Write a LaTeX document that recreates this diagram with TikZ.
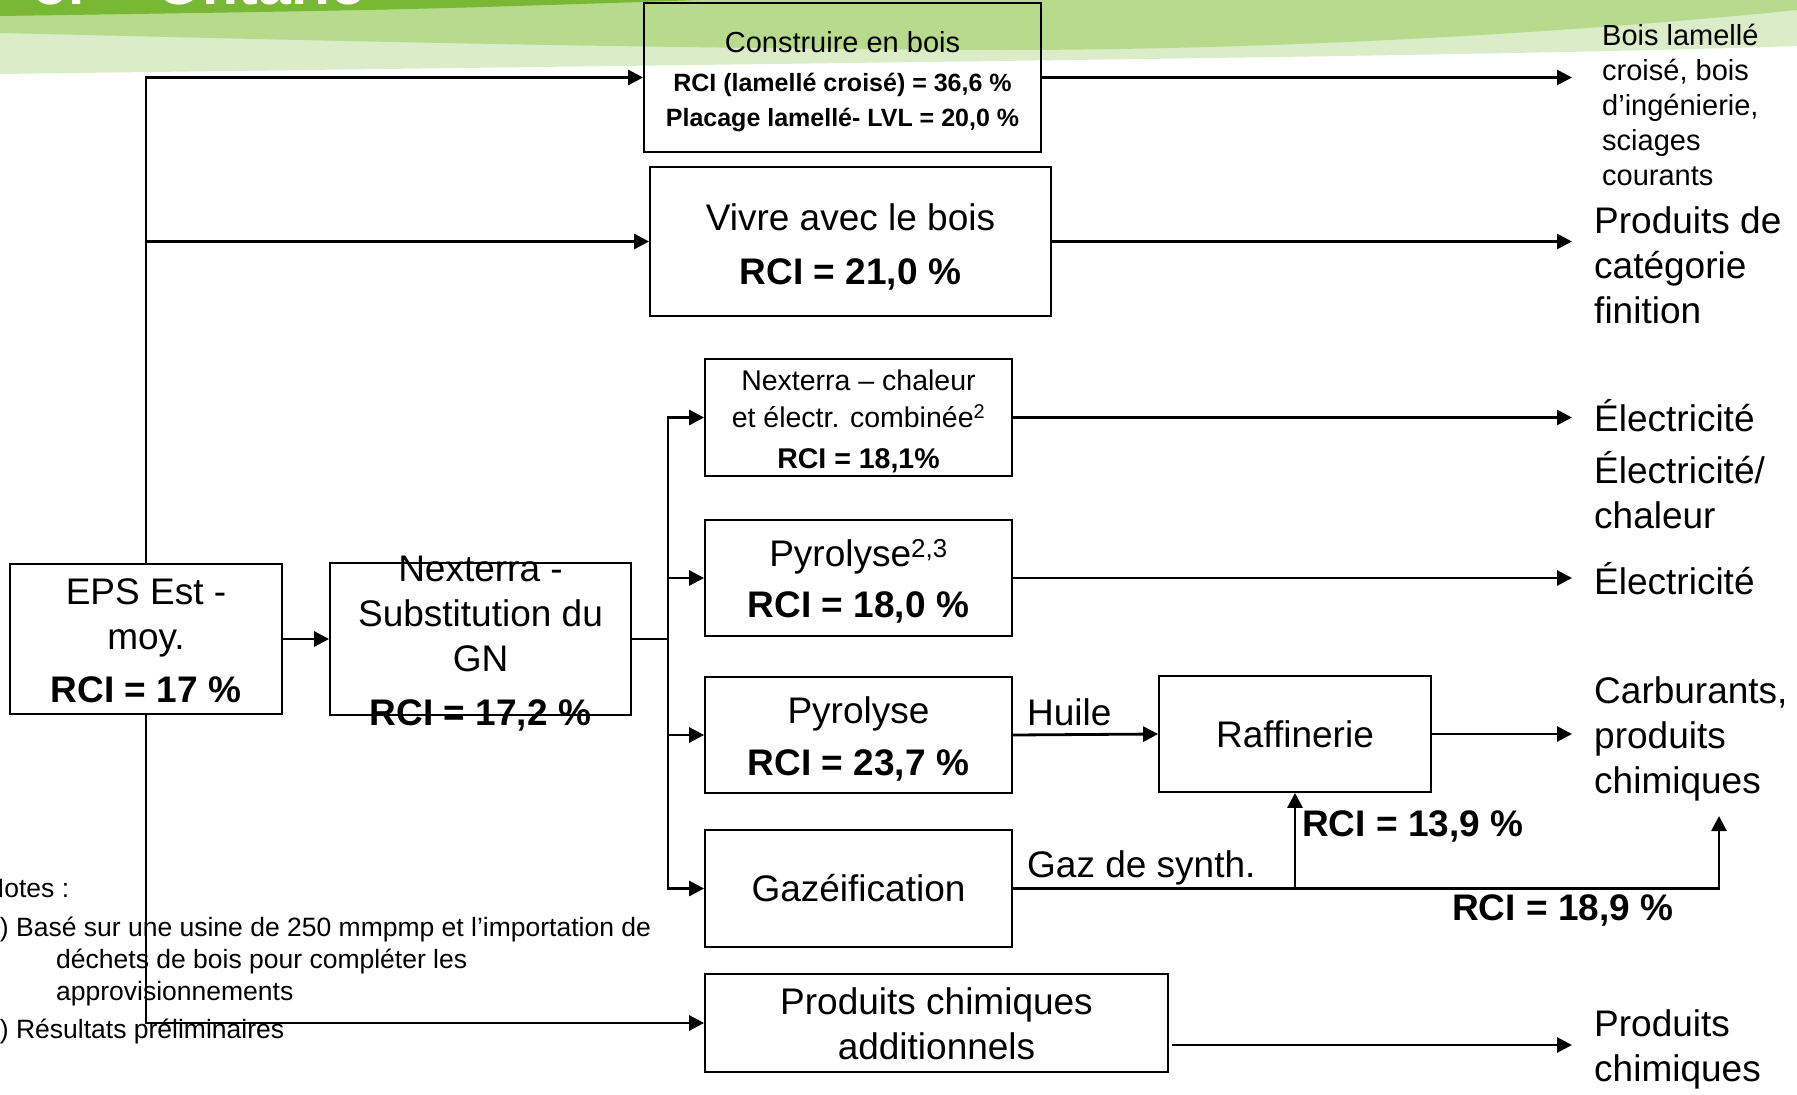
\documentclass[tikz,border=0pt]{standalone}
\usepackage{fontspec}
\setmainfont{Liberation Sans}
\usetikzlibrary{arrows.meta}
\definecolor{bandDark}{RGB}{120,184,52}
\definecolor{bandMid}{RGB}{183,218,140}
\definecolor{bandPale}{RGB}{219,236,201}
\newcommand\fsBig{\fontsize{37}{45}\selectfont}
\newcommand\fsMid{\fontsize{28.5}{37}\selectfont}
\newcommand\fsNote{\fontsize{26.5}{32}\selectfont}
\begin{document}
\begin{tikzpicture}[x=1pt,y=-1pt,
  box/.style={draw, line width=1.8pt, fill=white, inner sep=0pt},
  txt/.style={inner sep=0pt, align=center, font=\fsBig},
  conn/.style={line width=2.8pt},
  arr/.style={conn, -{Triangle[length=15pt,width=15pt]}},
  lab/.style={inner sep=0pt, font=\fsBig},
  outlab/.style={inner sep=0pt, anchor=west, align=left, font=\fsBig},
  note/.style={inner sep=0pt, anchor=base west, font=\fsNote}]
\useasboundingbox (0,0) rectangle (1797,1095);
\clip (0,0) rectangle (1797,1095);
% banner
\fill[bandPale] (0,0) -- (1797,0) -- (1797,46) .. controls (1500,56) and (900,62) .. (0,74) -- cycle;
\fill[bandMid] (0,0) -- (1797,0) -- (1797,10) .. controls (1600,30) and (1300,50) .. (1000,50) .. controls (600,48) and (300,40) .. (0,33) -- cycle;
\fill[bandDark] (0,0) -- (700,0) .. controls (400,10) .. (0,16) -- cycle;
\node[anchor=base east, inner sep=0pt, text=white, font=\bfseries\fontsize{59}{70}\selectfont] (title) at (367,4) {or – Ontario};

% boxes
\node[box, fill=none, minimum width=397pt, minimum height=149pt] (constr) at (842.5,77.5) {};
\node[txt, font=\fontsize{25}{35}\selectfont, yshift=-4.5pt] (constrT) at (constr)
  {{\fontsize{29}{39}\selectfont Construire en bois}\\[4pt]\textbf{RCI (lamellé croisé) = 36,6 \%}\\\textbf{Placage lamellé- LVL = 20,0 \%}};
\node[box, minimum width=401pt, minimum height=149pt] (vivre) at (850.5,241.5) {};
\node[txt, yshift=-5pt] (vivreT) at (vivre) {Vivre avec le bois\\[9pt]\textbf{RCI = 21,0 \%}};
\node[box, minimum width=272pt, minimum height=150pt] (eps) at (146,639) {};
\node[txt, yshift=-2pt] (epsT) at (eps) {EPS Est -\\moy.\\[8pt]\textbf{RCI = 17 \%}};
\node[box, fill=none, minimum width=301pt, minimum height=152pt] (gn) at (480.5,639) {};
\node[txt, yshift=-4.5pt] (gnT) at (gn) {Nexterra -\\Substitution du\\GN\\[9pt]\textbf{RCI = 17,2 \%}};
\node[box, minimum width=307pt, minimum height=117pt] (chp) at (858.5,417.5) {};
\node[txt, font=\fsMid, yshift=-3.5pt] (chpT) at (chp)
  {Nexterra – chaleur\\et électr. combinée\textsuperscript{2}\\[4pt]\textbf{RCI = 18,1\%}};
\node[box, minimum width=307pt, minimum height=116pt] (pyr23) at (858.5,578) {};
\node[txt, yshift=-3.5pt] (pyr23T) at (pyr23) {Pyrolyse\textsuperscript{2,3}\\[6pt]\textbf{RCI = 18,0 \%}};
\node[box, minimum width=307pt, minimum height=116pt] (pyr) at (858.5,735) {};
\node[txt, yshift=-3.5pt] (pyrT) at (pyr) {Pyrolyse\\[7pt]\textbf{RCI = 23,7 \%}};
\node[box, minimum width=307pt, minimum height=117pt] (gaz) at (858.5,888.5) {};
\node[txt] (gazT) at (gaz) {Gazéification};
\node[box, minimum width=463pt, minimum height=98pt] (pca) at (936.5,1023) {};
\node[txt, yshift=-1pt] (pcaT) at (pca) {Produits chimiques\\additionnels};
\node[box, minimum width=272pt, minimum height=116pt] (raf) at (1295,734) {};
\node[txt] (rafT) at (raf) {Raffinerie};

% connector labels
\node[lab, anchor=west] (huile) at (1027,712) {Huile};
\node[lab, anchor=west] (gazlab) at (1027,867.5) {Gaz de synth.};
\node[lab, anchor=west] (rciA) at (1302,826) {\textbf{RCI = 13,9 \%}};
\node[lab, anchor=west] (rciB) at (1452,910) {\textbf{RCI = 18,9 \%}};

% outputs
\node[outlab, font=\fontsize{29}{35}\selectfont] (out1) at (1602,104.5) {Bois lamellé\\croisé, bois\\d’ingénierie,\\sciages\\courants};
\node[outlab] (out2) at (1594,265) {Produits de\\catégorie\\finition};
\node[outlab] (out3) at (1594,416) {Électricité};
\node[outlab] (out4) at (1594,490.5) {Électricité/\\chaleur};
\node[outlab] (out5) at (1594,579) {Électricité};
\node[outlab] (out6) at (1594,739) {Carburants,\\produits\\chimiques};
\node[outlab] (out7) at (1594,1049) {Produits\\chimiques};

% notes
\node[note] (nt0) at (-15,897) {Notes :};
\node[note] (nt1) at (-15,936) {1) Basé sur une usine de 250 mmpmp et l’importation de};
\node[note] (nt2) at (56,968) {déchets de bois pour compléter les};
\node[note] (nt3) at (56,1000) {approvisionnements};
\node[note] (nt4) at (-15,1038) {2) Résultats préliminaires};

% connectors
\coordinate (oend) at (1572,0);
\coordinate (bus) at (668,639);
\coordinate (ctip) at (1719,816);
\draw[arr] (eps.north) |- (constr.west);
\draw[arr] (eps.north) |- (vivre.west);
\draw[arr] (eps.south) |- (pca.west);
\draw[arr] (eps.east) -- (gn.west);
\draw[conn] (gn.east) -- (bus);
\draw[arr] (bus) |- (chp.west);
\draw[arr] (bus) |- (pyr23.west);
\draw[arr] (bus) |- (pyr.west);
\draw[arr] (bus) |- (gaz.west);
\draw[arr] (constr.east) -- (constr.east -| oend);
\draw[arr] (vivre.east) -- (vivre.east -| oend);
\draw[arr] (chp.east) -- (chp.east -| oend);
\draw[arr] (pyr23.east) -- (pyr23.east -| oend);
\draw[arr] (pyr.east) -- (raf.west);
\draw[arr] (raf.east) -- (raf.east -| oend);
\draw[arr] (gaz.east) -| (ctip);
\draw[arr] (gaz.east -| raf.south) -- (raf.south);
\coordinate (pcaout) at ([shift={(3,22)}]pca.east);
\draw[arr] (pcaout) -- (pcaout -| oend);
\end{tikzpicture}
\end{document}
